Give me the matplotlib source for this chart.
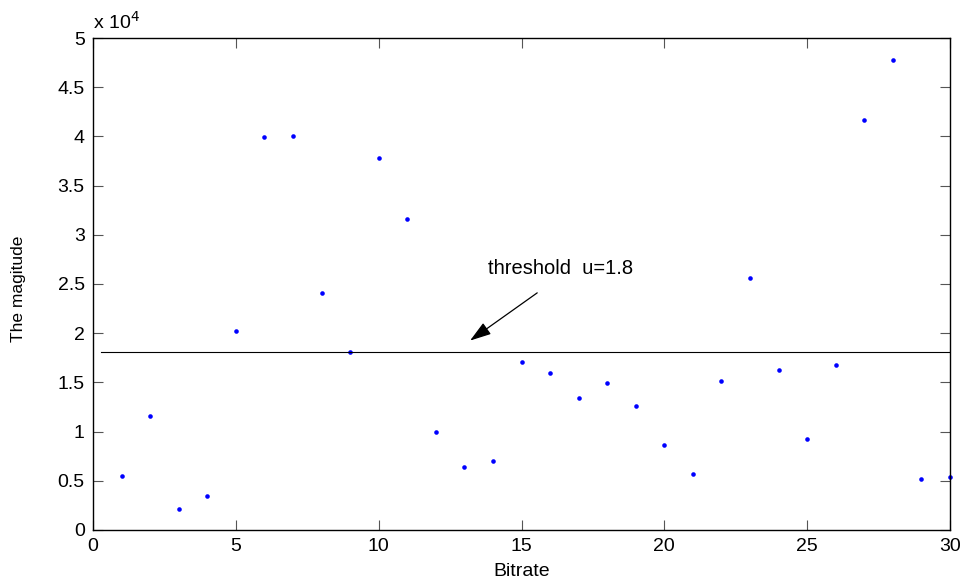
import numpy as np
import matplotlib
matplotlib.use("Agg")
import matplotlib.pyplot as plt
from matplotlib.ticker import FuncFormatter

plt.rcParams['font.family'] = ['Liberation Sans', 'DejaVu Sans']

# bitrate index and magnitude
bitrate = np.arange(1, 31)
magnitude = [5520, 11600, 2170, 3490, 20200, 39900, 40000, 24100, 18100, 37800,
             31600, 9960, 6400, 7000, 17100, 16000, 13400, 14900, 12600, 8600,
             5700, 15100, 25600, 16300, 9200, 16800, 41700, 47800, 5180, 5390]
threshold = 18100
line_x = [0.28, 30]

fig = plt.figure(figsize=(9.67, 5.84), dpi=100)
ax = fig.add_axes([0.0962, 0.0925, 0.8862, 0.8424])

ax.plot(bitrate, magnitude, 'o', color='#0000ff', markersize=3.3, markeredgewidth=0,
        clip_on=False)
ax.plot(line_x, [threshold, threshold], color='black', linewidth=0.8)

ax.annotate('', xy=(13.2, 19250), xytext=(15.55, 24100),
            arrowprops=dict(arrowstyle='-|>,head_length=1.3,head_width=0.42',
                            color='black', lw=0.9, shrinkA=0, shrinkB=0))
ax.text(13.83, 26600, 'threshold  u=1.8', fontsize=14.5, ha='left', va='center')

ax.set_xlim(0, 30)
ax.set_ylim(0, 50000)
ax.set_xticks(np.arange(0, 31, 5))
ax.set_yticks(np.arange(0, 50001, 5000))
ax.yaxis.set_major_formatter(FuncFormatter(lambda v, p: '%g' % (v / 1e4)))
ax.tick_params(direction='in', length=7, width=0.8, top=True, right=True,
               labelsize=14, color='#555555', pad=6)
for s in ax.spines.values():
    s.set_linewidth(1.0)

ax.text(0.0, 1.01, r'x 10$^4$', transform=ax.transAxes, fontsize=14,
        ha='left', va='bottom')
ax.set_xlabel('Bitrate', fontsize=14, va='center')
ax.xaxis.set_label_coords(0.5, -0.0854)
ax.set_ylabel('The magitude', fontsize=12.5, va='center')
ax.yaxis.set_label_coords(-0.087, 0.49)

fig.savefig('out.png', dpi=100)
